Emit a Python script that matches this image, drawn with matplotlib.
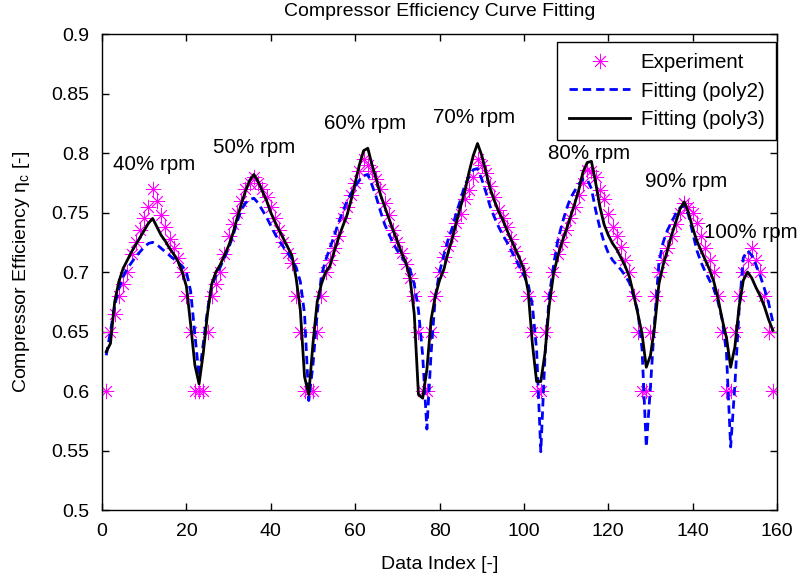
import numpy as np
import matplotlib
matplotlib.use("Agg")
import matplotlib.pyplot as plt

plt.rcParams['font.family'] = ['Liberation Sans', 'DejaVu Sans']
plt.rcParams['mathtext.fontset'] = 'custom'
plt.rcParams['mathtext.rm'] = 'Liberation Sans'
plt.rcParams['mathtext.it'] = 'Liberation Sans:italic'

# ---- data -------------------------------------------------------------
data_index = np.arange(1, 160)

# measured efficiency, one speed line after another (40% ... 100% rpm)
exp_40 = [0.60, 0.65, 0.665, 0.68, 0.69, 0.70, 0.715, 0.725, 0.735, 0.745, 0.755, 0.77,
          0.76, 0.748, 0.738, 0.728, 0.72, 0.712, 0.70, 0.68, 0.65, 0.60, 0.60]
exp_50 = [0.60, 0.65, 0.68, 0.69, 0.70, 0.715, 0.73, 0.74, 0.75, 0.76, 0.77, 0.775, 0.78,
          0.775, 0.77, 0.763, 0.755, 0.745, 0.735, 0.725, 0.716, 0.708, 0.68, 0.65, 0.60, 0.60]
exp_60 = [0.60, 0.65, 0.68, 0.70, 0.71, 0.72, 0.73, 0.745, 0.755, 0.765, 0.775, 0.785, 0.795,
          0.79, 0.785, 0.778, 0.77, 0.758, 0.748, 0.735, 0.725, 0.716, 0.707, 0.695, 0.68, 0.65, 0.60]
exp_70 = [0.60, 0.65, 0.68, 0.70, 0.713, 0.722, 0.73, 0.741, 0.749, 0.761, 0.769, 0.78, 0.795,
          0.79, 0.783, 0.772, 0.763, 0.752, 0.745, 0.738, 0.728, 0.718, 0.708, 0.70, 0.68, 0.65, 0.60]
exp_80 = [0.60, 0.65, 0.68, 0.70, 0.715, 0.725, 0.735, 0.745, 0.755, 0.765, 0.775, 0.786,
          0.785, 0.78, 0.769, 0.761, 0.749, 0.738, 0.73, 0.721, 0.71, 0.70, 0.68, 0.65, 0.60]
exp_90 = [0.60, 0.65, 0.68, 0.70, 0.71, 0.72, 0.73, 0.74, 0.75, 0.758, 0.755, 0.75, 0.741,
          0.73, 0.72, 0.71, 0.70, 0.68, 0.65, 0.60]
exp_100 = [0.60, 0.65, 0.68, 0.70, 0.71, 0.72, 0.71, 0.70, 0.68, 0.65, 0.60]
experiment = np.array(exp_40 + exp_50 + exp_60 + exp_70 + exp_80 + exp_90 + exp_100)

# second-order polynomial fit, evaluated at each data index
poly2 = np.array([
    0.630, 0.650, 0.672, 0.686, 0.696, 0.703, 0.708, 0.713, 0.717, 0.721, 0.724, 0.725,
    0.723, 0.720, 0.717, 0.714, 0.711, 0.708, 0.705, 0.700, 0.684, 0.648, 0.612,
    0.640, 0.668, 0.688, 0.697, 0.704, 0.712, 0.720, 0.730, 0.742, 0.752, 0.758, 0.761, 0.762,
    0.758, 0.752, 0.746, 0.739, 0.732, 0.726, 0.721, 0.716, 0.711, 0.704, 0.692, 0.665, 0.592,
    0.622, 0.665, 0.697, 0.710, 0.720, 0.730, 0.741, 0.750, 0.759, 0.766, 0.772, 0.777, 0.781,
    0.782, 0.773, 0.763, 0.751, 0.740, 0.732, 0.724, 0.718, 0.713, 0.708, 0.702, 0.690, 0.668,
    0.630, 0.568,
    0.632, 0.679, 0.700, 0.714, 0.727, 0.737, 0.750, 0.761, 0.773, 0.780, 0.786, 0.787,
    0.778, 0.767, 0.755, 0.746, 0.738, 0.731, 0.725, 0.718, 0.711, 0.704, 0.697, 0.690, 0.672,
    0.635, 0.549,
    0.630, 0.680, 0.705, 0.726, 0.740, 0.752, 0.762, 0.768, 0.774, 0.778, 0.778, 0.770,
    0.752, 0.737, 0.725, 0.716, 0.710, 0.706, 0.702, 0.697, 0.691, 0.680, 0.667, 0.635,
    0.553, 0.604, 0.660, 0.708, 0.725, 0.735, 0.742, 0.749, 0.754, 0.756, 0.748, 0.733,
    0.718, 0.708, 0.700, 0.693, 0.686, 0.675, 0.660, 0.632,
    0.553, 0.605, 0.668, 0.712, 0.718, 0.714, 0.706, 0.697, 0.686, 0.674, 0.658])

# third-order polynomial fit, evaluated at each data index
poly3 = np.array([
    0.633, 0.640, 0.675, 0.692, 0.703, 0.710, 0.717, 0.723, 0.729, 0.735, 0.741, 0.745,
    0.738, 0.731, 0.726, 0.720, 0.715, 0.709, 0.700, 0.688, 0.656, 0.622, 0.606,
    0.632, 0.665, 0.690, 0.700, 0.706, 0.714, 0.722, 0.732, 0.745, 0.757, 0.768, 0.777, 0.782,
    0.776, 0.768, 0.760, 0.750, 0.742, 0.735, 0.728, 0.721, 0.714, 0.695, 0.668, 0.612, 0.597,
    0.640, 0.675, 0.690, 0.700, 0.705, 0.717, 0.728, 0.738, 0.747, 0.760, 0.775, 0.790, 0.802,
    0.804, 0.790, 0.778, 0.765, 0.755, 0.745, 0.735, 0.726, 0.716, 0.708, 0.695, 0.665, 0.597,
    0.594,
    0.618, 0.660, 0.680, 0.693, 0.702, 0.716, 0.728, 0.742, 0.755, 0.768, 0.784, 0.798, 0.808,
    0.798, 0.784, 0.770, 0.760, 0.751, 0.744, 0.735, 0.727, 0.719, 0.711, 0.702, 0.684, 0.640,
    0.608,
    0.608, 0.632, 0.672, 0.698, 0.713, 0.725, 0.735, 0.746, 0.757, 0.769, 0.784, 0.792, 0.793,
    0.775, 0.755, 0.740, 0.731, 0.724, 0.719, 0.712, 0.705, 0.696, 0.681, 0.665, 0.648,
    0.620, 0.630, 0.655, 0.690, 0.706, 0.718, 0.731, 0.742, 0.753, 0.759, 0.750, 0.737,
    0.726, 0.718, 0.710, 0.702, 0.692, 0.678, 0.660, 0.645,
    0.620, 0.637, 0.671, 0.693, 0.700, 0.695, 0.687, 0.680, 0.671, 0.660, 0.651])

speed_labels = ['40% rpm', '50% rpm', '60% rpm', '70% rpm', '80% rpm', '90% rpm', '100% rpm']
label_x = [2.6, 26.2, 52.7, 78.5, 105.8, 128.6, 142.8]
label_y = [0.79, 0.805, 0.825, 0.83, 0.80, 0.776, 0.733]

x_ticks = [0, 20, 40, 60, 80, 100, 120, 140, 160]
y_ticks = [0.5, 0.55, 0.6, 0.65, 0.7, 0.75, 0.8, 0.85, 0.9]
y_ticklabels = ['0.5', '0.55', '0.6', '0.65', '0.7', '0.75', '0.8', '0.85', '0.9']

# ---- figure -----------------------------------------------------------
fig = plt.figure(figsize=(8.04, 5.73), dpi=100)
ax = fig.add_axes([0.1269, 0.1099, 0.8396, 0.8307])

ax.plot(data_index, experiment, linestyle='none', marker=(8, 2, 0),
        markersize=11, markeredgewidth=0.6, color='#ff00ff', label='Experiment', zorder=2)
ax.plot(data_index, poly2, color='#0000ff', linewidth=2.0, dashes=(3, 1.8),
        label='Fitting (poly2)', zorder=3)
ax.plot(data_index, poly3, color='black', linewidth=2.0, label='Fitting (poly3)', zorder=4)

for txt, tx, ty in zip(speed_labels, label_x, label_y):
    ax.text(tx, ty, txt, fontsize=14.8, ha='left', va='center', zorder=5)

ax.set_xlim(0, 160)
ax.set_ylim(0.5, 0.9)
ax.set_xticks(x_ticks)
ax.set_yticks(y_ticks)
ax.set_yticklabels(y_ticklabels)
ax.tick_params(direction='in', length=5, width=1, top=True, right=True,
               labelsize=14, pad=9)
for s in ax.spines.values():
    s.set_linewidth(1.0)

ax.set_xlabel('Data Index [-]', fontsize=14, labelpad=12)
ax.set_ylabel(r'Compressor Efficiency $\mathrm{\eta_c}$ [-]', fontsize=14, labelpad=14)
ax.set_title('Compressor Efficiency Curve Fitting', fontsize=14, pad=13)

leg = ax.legend(loc='upper right', bbox_to_anchor=(0.998, 0.983), borderaxespad=0,
                fontsize=14.8, frameon=True, fancybox=False,
                edgecolor='black', framealpha=1,
                handlelength=3.0, handletextpad=0.5, borderpad=0.55, labelspacing=0.45)
leg.get_frame().set_linewidth(1.0)

fig.savefig('out.png', dpi=100)
